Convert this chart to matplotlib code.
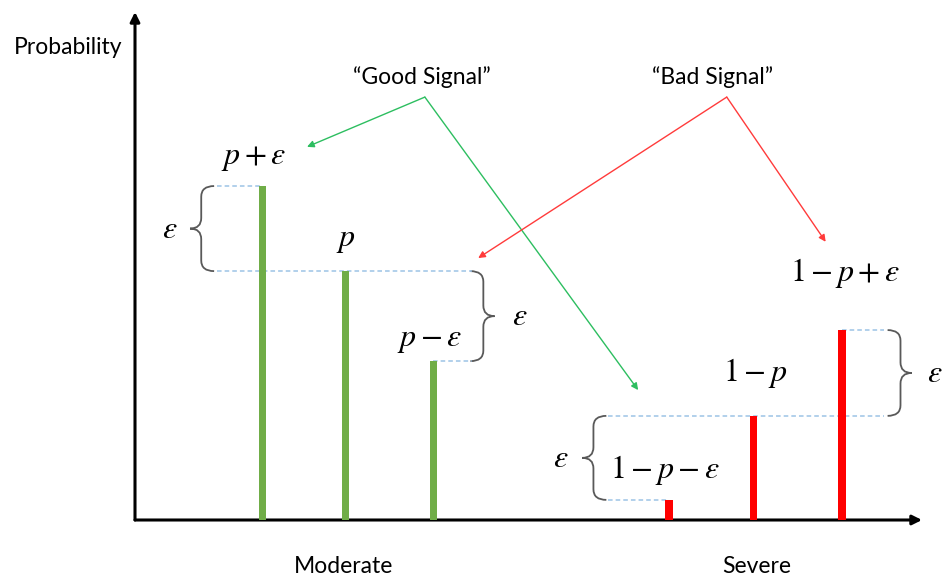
import matplotlib
matplotlib.use('Agg')
import matplotlib.pyplot as plt
from matplotlib.path import Path
from matplotlib.patches import PathPatch
import numpy as np

plt.rcParams['font.family'] = ['Lato', 'DejaVu Sans']
plt.rcParams['mathtext.fontset'] = 'stix'

# outcome probabilities for the two signals (p ~ 0.705, eps ~ 0.24)
good_x = [1.48, 2.45, 3.47]
good_h = [0.946, 0.705, 0.450]
good_labels = [r'$p+\varepsilon$', r'$p$', r'$p-\varepsilon$']

bad_x = [6.21, 7.19, 8.22]
bad_h = [0.057, 0.295, 0.538]
bad_labels = [r'$1-p-\varepsilon$', r'$1-p$', r'$1-p+\varepsilon$']

categories = ['Moderate', 'Severe']
cat_x = [2.42, 7.23]

GREEN = '#70AD47'
RED = '#FF0000'
DASH = '#9DC3E6'
BRACE = '#595959'


def brace(ax, x, y0, y1, side, w=0.15, tip=0.13, r=0.03):
    # curly brace between y0 and y1, tip pointing towards side
    m = (y0 + y1) / 2
    s = side
    verts = [(x - s * w, y1), (x, y1), (x, y1 - r),
             (x, m + r),
             (x, m), (x + s * tip, m),
             (x, m), (x, m - r),
             (x, y0 + r),
             (x, y0), (x - s * w, y0)]
    codes = [Path.MOVETO, Path.CURVE3, Path.CURVE3,
             Path.LINETO,
             Path.CURVE3, Path.CURVE3,
             Path.CURVE3, Path.CURVE3,
             Path.LINETO,
             Path.CURVE3, Path.CURVE3]
    ax.add_patch(PathPatch(Path(verts, codes), fill=False, ec=BRACE, lw=1.3,
                           clip_on=False))


fig = plt.figure(figsize=(9.45, 5.84), dpi=100)
W, H = 945, 584
ax = fig.add_axes([135 / W, (H - 520) / H, (922 - 135) / W, (520 - 12) / H])
ax.set_xlim(0, 9.15)
ax.set_ylim(0, 1.439)
for s in ax.spines.values():
    s.set_visible(False)

# axes with arrow heads
ax.annotate('', xy=(0, 1), xytext=(0, 0), xycoords='axes fraction',
            arrowprops=dict(arrowstyle='-|>', color='black', lw=2.2,
                            mutation_scale=14, shrinkA=0, shrinkB=0))
ax.annotate('', xy=(1, 0), xytext=(0, 0), xycoords='axes fraction',
            arrowprops=dict(arrowstyle='-|>', color='black', lw=2.2,
                            mutation_scale=14, shrinkA=0, shrinkB=0))

ax.bar(good_x, good_h, width=0.085, color=GREEN, zorder=3)
ax.bar(bad_x, bad_h, width=0.09, color=RED, zorder=3)

ax.set_xticks(cat_x)
ax.set_xticklabels(categories, fontsize=16.5)
ax.tick_params(axis='x', length=0, pad=26)
ax.set_yticks([])
ax.set_ylabel('Probability', rotation=0, fontsize=16.5, va='center', ha='center')
ax.yaxis.set_label_coords(-0.085, 0.931)

# value labels
lbl_good = [(1.38, 1.025), (2.45, 0.793), (3.43, 0.51)]
lbl_bad = [(6.16, 0.142), (7.21, 0.416), (8.26, 0.70)]
for (tx, ty), t in zip(lbl_good + lbl_bad, good_labels + bad_labels):
    ax.text(tx, ty, t, fontsize=23, ha='center', va='center')

# dashed guide lines
dk = dict(color=DASH, lw=1.1, ls=(0, (3, 2)), zorder=2)
ax.plot([0.95, good_x[0]], [good_h[0]] * 2, **dk)
ax.plot([0.95, 3.92], [good_h[1]] * 2, **dk)
ax.plot([good_x[2], 3.92], [good_h[2]] * 2, **dk)
ax.plot([5.5, 8.71], [bad_h[1]] * 2, **dk)
ax.plot([5.5, bad_x[0]], [bad_h[0]] * 2, **dk)
ax.plot([bad_x[2], 8.71], [bad_h[2]] * 2, **dk)

# braces with epsilon
brace(ax, 0.77, good_h[1], good_h[0], -1)
brace(ax, 4.05, good_h[2], good_h[1], 1)
brace(ax, 5.33, bad_h[0], bad_h[1], -1)
brace(ax, 8.9, bad_h[1], bad_h[2], 1)
eps = r'$\varepsilon$'
ax.text(0.41, (good_h[0] + good_h[1]) / 2, eps, fontsize=23, ha='center', va='center')
ax.text(4.47, (good_h[1] + good_h[2]) / 2, eps, fontsize=23, ha='center', va='center')
ax.text(4.95, (bad_h[0] + bad_h[1]) / 2, eps, fontsize=23, ha='center', va='center')
ax.text(9.3, (bad_h[1] + bad_h[2]) / 2, eps, fontsize=23, ha='center', va='center')

# signal callouts
ax.text(3.34, 1.255, '\u201cGood Signal\u201d', fontsize=16.5, ha='center', va='center')
ax.text(6.72, 1.255, '\u201cBad Signal\u201d', fontsize=16.5, ha='center', va='center')
green_apex = (3.37, 1.198)
red_apex = (6.88, 1.198)
for end in [(2.0, 1.057), (5.85, 0.368)]:
    ax.annotate('', xy=end, xytext=green_apex,
                arrowprops=dict(arrowstyle='-|>', color='#2DBE60', lw=1,
                                mutation_scale=10, shrinkA=0, shrinkB=0))
for end in [(3.99, 0.742), (8.03, 0.788)]:
    ax.annotate('', xy=end, xytext=red_apex,
                arrowprops=dict(arrowstyle='-|>', color='#FF3B3B', lw=1,
                                mutation_scale=10, shrinkA=0, shrinkB=0))

fig.savefig('out.png', dpi=100)
